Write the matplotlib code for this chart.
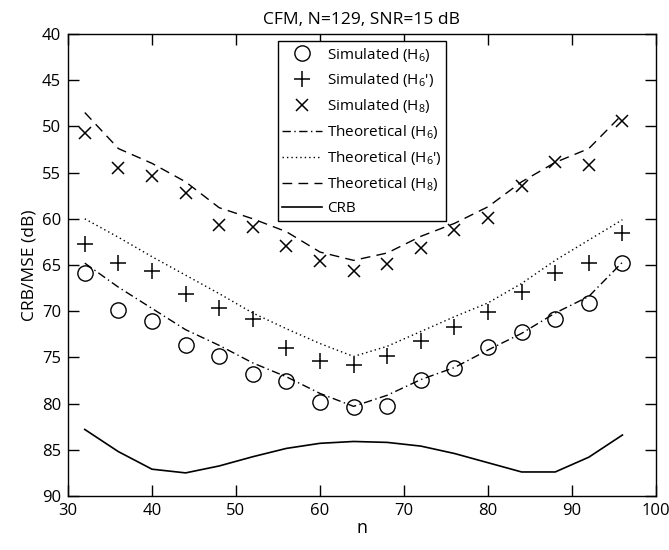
import matplotlib
matplotlib.use("Agg")
import matplotlib.pyplot as plt

plt.rcParams['font.family'] = ['Open Sans', 'DejaVu Sans']
plt.rcParams['mathtext.fontset'] = 'custom'
plt.rcParams['mathtext.rm'] = 'Open Sans'
plt.rcParams['mathtext.it'] = 'Open Sans'

n = [32, 36, 40, 44, 48, 52, 56, 60, 64, 68, 72, 76, 80, 84, 88, 92, 96]

sim_h6 = [65.9, 69.9, 71.05, 73.65, 74.85, 76.8, 77.55, 79.85, 80.4,
          80.25, 77.5, 76.2, 73.85, 72.3, 70.8, 69.1, 64.75]
sim_h6p = [62.7, 64.75, 65.6, 68.1, 69.7, 70.8, 74.0, 75.4, 75.8,
           74.85, 73.2, 71.7, 70.1, 67.9, 65.9, 64.8, 61.5]
sim_h8 = [50.75, 54.5, 55.4, 57.2, 60.7, 60.85, 62.9, 64.6, 65.7,
          64.9, 63.2, 61.2, 59.9, 56.5, 53.9, 54.2, 49.4]

th_h6 = [64.8, 67.4, 69.7, 72.0, 73.7, 75.6, 77.1, 78.9, 80.3,
         79.1, 77.4, 76.1, 74.2, 72.4, 70.2, 68.4, 64.7]
th_h6p = [60.0, 62.0, 64.1, 66.1, 68.1, 70.2, 71.9, 73.5, 74.9,
          73.8, 72.2, 70.6, 69.1, 67.0, 64.5, 62.3, 60.1]
th_h8 = [48.5, 52.4, 54.0, 56.0, 58.8, 60.0, 61.4, 63.6, 64.5,
         63.7, 61.9, 60.5, 58.7, 56.0, 53.9, 52.4, 48.7]
crb = [82.8, 85.2, 87.1, 87.5, 86.75, 85.75, 84.85, 84.3, 84.1,
       84.2, 84.6, 85.4, 86.4, 87.4, 87.4, 85.8, 83.4]

title = "CFM, N=129, SNR=15 dB"
xlabel = "n"
ylabel = "CRB/MSE (dB)"
labels = ["Simulated (H$_{6}$)", "Simulated (H$_{6}$')", "Simulated (H$_{8}$)",
          "Theoretical (H$_{6}$)", "Theoretical (H$_{6}$')", "Theoretical (H$_{8}$)",
          "CRB"]

fig = plt.figure(figsize=(6.69, 5.5), dpi=100)
ax = fig.add_axes([0.1016, 0.0982, 0.879, 0.840])

ax.plot(n, sim_h6, linestyle='none', marker='o', ms=11, mfc='none', mec='black', mew=1.0, label=labels[0])
ax.plot(n, sim_h6p, linestyle='none', marker='+', ms=12, mec='black', mew=1.1, label=labels[1])
ax.plot(n, sim_h8, linestyle='none', marker='x', ms=8, mec='black', mew=1.1, label=labels[2])
ax.plot(n, th_h6, color='black', lw=1.0, dashes=(6, 2.5, 1, 2.5), label=labels[3])
ax.plot(n, th_h6p, color='black', lw=1.0, dashes=(1, 2.2), label=labels[4])
ax.plot(n, th_h8, color='black', lw=1.0, dashes=(7, 4.5), label=labels[5])
ax.plot(n, crb, color='black', lw=1.2, label=labels[6])

ax.set_xlim(30, 100)
ax.set_ylim(90, 40)
ax.set_xticks(range(30, 101, 10))
ax.set_yticks(range(40, 91, 5))
ax.tick_params(direction='in', length=8, width=1.0, top=True, right=True,
               labelsize=12, pad=5)
for s in ax.spines.values():
    s.set_linewidth(1.0)

ax.set_title(title, fontsize=12.5, pad=7)
ax.set_xlabel(xlabel, fontsize=13, labelpad=0)
ax.set_ylabel(ylabel, fontsize=12.5, labelpad=3)

leg = ax.legend(loc='upper center', bbox_to_anchor=(0.5, 0.985), fontsize=11,
                frameon=True, fancybox=False, edgecolor='black', framealpha=1,
                handlelength=2.6, handletextpad=0.3, labelspacing=0.52,
                borderpad=0.3, borderaxespad=0)
leg.get_frame().set_linewidth(1.0)

fig.savefig("out.png", dpi=100)
